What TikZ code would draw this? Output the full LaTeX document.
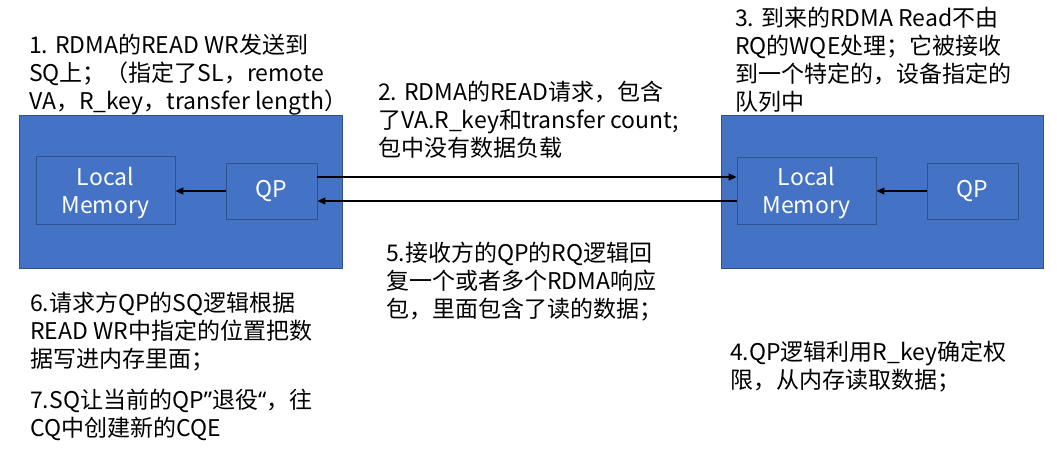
\documentclass[tikz,border=0pt]{standalone}
\usepackage{fontspec}
\setmainfont{Noto Sans CJK SC}
\newfontfamily\latinq{Noto Sans}
\usetikzlibrary{arrows.meta}
\definecolor{boxblue}{HTML}{4472C4}
\definecolor{boxedge}{HTML}{2F528F}
\begin{document}
\begin{tikzpicture}[x=1pt,y=-1pt,
  outer/.style={draw=boxedge,fill=boxblue,line width=0.9pt,inner sep=0pt},
  inner/.style={draw=boxedge,fill=boxblue,line width=0.9pt,inner sep=0pt,text=white,align=center,font=\fontsize{23}{28}\selectfont},
  note/.style={anchor=north west,inner sep=0pt,align=left,font=\fontsize{23}{28}\selectfont},
  conn/.style={line width=1.1pt,-{Triangle[length=8pt,width=7pt]}}
]
\useasboundingbox (0,0) rectangle (1057,453);
% left host
\node[outer,minimum width=323pt,minimum height=153pt] (lhost) at (180.5,191.5) {};
\node[inner,minimum width=139pt,minimum height=68pt] (llm) at (105.5,190) {\rule{0pt}{24pt}Local\\Memory};
\node[inner,minimum width=91pt,minimum height=56pt] (lqp) at (271.5,191) {QP};
% right host
\node[outer,minimum width=322pt,minimum height=153pt] (rhost) at (882,191.5) {};
\node[inner,minimum width=139pt,minimum height=67pt] (rlm) at (806.5,190.5) {\rule{0pt}{24pt}Local\\Memory};
\node[inner,minimum width=91pt,minimum height=56pt] (rqp) at (972.5,191) {QP};
% connectors
\draw[conn] (lqp.west) -- (lqp.west -| llm.east);
\draw[conn] (rqp.west) -- (rqp.west -| rlm.east);
\draw[conn] ([yshift=14pt]lqp.east) -- ([yshift=14pt]lqp.east -| rlm.west);
\draw[conn] ([yshift=-10pt]lqp.east -| rlm.west) -- ([yshift=-10pt]lqp.east);
% notes
\node[note] (t1) at (29,34) {1. RDMA的READ WR发送到\\SQ上；（指定了SL，remote\\VA，R\_key，transfer length）};
\node[note] (t2) at (378,81) {2. RDMA的READ请求，包含\\了VA.R\_key和transfer count;\\包中没有数据负载};
\node[note] (t3) at (735,7) {3. 到来的RDMA Read不由\\RQ的WQE处理；它被接收\\到一个特定的，设备指定的\\队列中};
\node[note] (t4) at (730,341) {4.QP逻辑利用R\_key确定权\\限，从内存读取数据；};
\node[note] (t5) at (386,242) {5.接收方的QP的RQ逻辑回\\复一个或者多个RDMA响应\\包，里面包含了读的数据；};
\node[note] (t6) at (30,292) {6.请求方QP的SQ逻辑根据\\READ WR中指定的位置把数\\据写进内存里面；};
\node[note] (t7) at (30,389) {7.SQ让当前的QP{\latinq ”}退役{\latinq “}，往\\CQ中创建新的CQE};
\end{tikzpicture}
\end{document}
